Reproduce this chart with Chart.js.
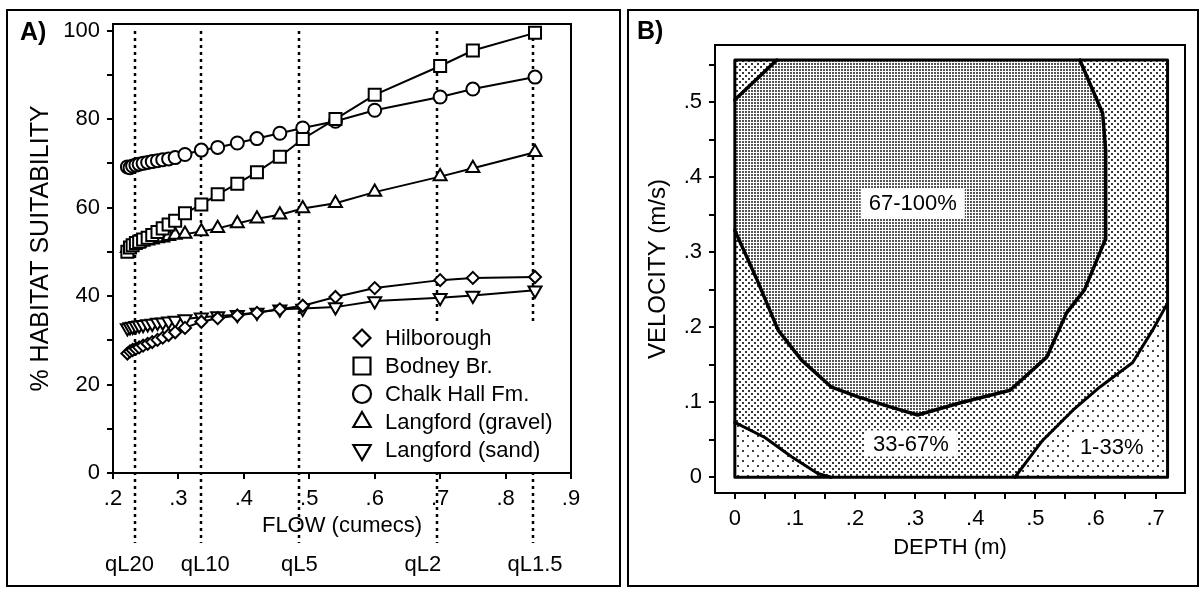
<!DOCTYPE html>
<html>
<head>
<meta charset="utf-8">
<title>Habitat suitability</title>
<script src="https://cdn.jsdelivr.net/npm/chart.js@4.4.1/dist/chart.umd.min.js"></script>
<style>
  html, body { margin: 0; padding: 0; background: #fff; }
  body { position: relative; width: 1201px; height: 590px; overflow: hidden; font-family: 'Liberation Sans', Arial, sans-serif; }
  .frame { position: absolute; border: 2px solid #000; box-sizing: border-box; }
  .wrap { position: absolute; top: 0; height: 590px; }
  .tag { position: absolute; font-weight: bold; font-size: 25px; line-height: 28px; }
</style>
</head>
<body>
<div class="frame" style="left:6px;top:9px;width:615px;height:578px"></div>
<div class="frame" style="left:627px;top:9px;width:572px;height:578px"></div>
<div class="wrap" style="left:0;width:622px"><canvas id="chartA"></canvas></div>
<div class="wrap" style="left:622px;width:579px"><canvas id="chartB"></canvas></div>
<div class="tag" style="left:20px;top:17px">A)</div>
<div class="tag" style="left:637px;top:16px">B)</div>
<script>
// ---- panel A: habitat suitability against flow
const flows = [0.222, 0.226, 0.23, 0.235, 0.24, 0.246, 0.253, 0.26, 0.268, 0.276, 0.285, 0.295,
  0.31, 0.335, 0.36, 0.39, 0.42, 0.455, 0.49, 0.54, 0.60, 0.70, 0.75, 0.845];
const hilborough = [27.0, 27.5, 27.8, 28.1, 28.4, 28.8, 29.2, 29.6, 30.1, 30.6, 31.2, 31.8,
  32.8, 34.2, 35.0, 35.6, 36.2, 37.0, 37.8, 39.8, 41.8, 43.6, 44.1, 44.3];
const bodney = [50.0, 51.0, 51.5, 52.0, 52.3, 52.8, 53.2, 53.8, 54.5, 55.3, 56.2, 57.0,
  58.7, 60.7, 63.0, 65.4, 68.0, 71.5, 75.5, 80.0, 85.5, 92.0, 95.5, 99.5];
const chalkHall = [69.2, 69.0, 69.4, 69.6, 69.8, 70.0, 70.2, 70.4, 70.6, 70.8, 71.0, 71.3,
  72.0, 73.0, 73.6, 74.6, 75.6, 76.8, 78.0, 79.5, 82.0, 85.0, 86.8, 89.5];
const langfordGravel = [50.8, 51.2, 51.5, 51.8, 52.0, 52.3, 52.5, 52.7, 53.0, 53.2, 53.5, 53.8,
  54.0, 54.6, 55.3, 56.4, 57.5, 58.4, 59.8, 61.0, 63.5, 67.0, 68.9, 72.5];
const langfordSand = [32.8, 33.0, 33.1, 33.3, 33.4, 33.5, 33.7, 33.8, 34.0, 34.1, 34.3, 34.5,
  34.8, 35.2, 35.5, 35.8, 36.3, 37.0, 37.2, 37.5, 38.9, 39.6, 40.1, 41.3];
const seriesNames = ['Hilborough', 'Bodney Br.', 'Chalk Hall Fm.', 'Langford (gravel)', 'Langford (sand)'];
const flowTicks = [0.2, 0.3, 0.4, 0.5, 0.6, 0.7, 0.8, 0.9];
const suitabilityTicks = [0, 10, 20, 30, 40, 50, 60, 70, 80, 90, 100];
const returnFlows = [0.233, 0.335, 0.485, 0.695, 0.842];
const returnLabels = ['qL20', 'qL10', 'qL5', 'qL2', 'qL1.5'];

// ---- panel B: suitability zones over depth / velocity
const depthTicks = [0, 0.05, 0.1, 0.15, 0.2, 0.25, 0.3, 0.35, 0.4, 0.45, 0.5, 0.55, 0.6, 0.65, 0.7];
const velocityTicks = [0, 0.05, 0.1, 0.15, 0.2, 0.25, 0.3, 0.35, 0.4, 0.45, 0.5, 0.55];
const regionDepth = [0, 0.72];
const regionVelocity = [0, 0.556];
const innerDepth = [0.0, 0.037, 0.072, 0.111, 0.161, 0.205, 0.261, 0.304, 0.374, 0.458, 0.519, 0.552, 0.582, 0.616, 0.617, 0.612, 0.574];
const innerVelocity = [0.329, 0.263, 0.196, 0.156, 0.120, 0.107, 0.093, 0.083, 0.099, 0.116, 0.160, 0.219, 0.250, 0.316, 0.436, 0.485, 0.556];
const cornerDepth = [0.0, 0.07];
const cornerVelocity = [0.503, 0.556];
const leftOuterDepth = [0.0, 0.05, 0.095, 0.138, 0.16];
const leftOuterVelocity = [0.073, 0.053, 0.027, 0.005, 0.0];
const rightOuterDepth = [0.466, 0.512, 0.562, 0.607, 0.662, 0.695, 0.72];
const rightOuterVelocity = [0.0, 0.049, 0.089, 0.12, 0.153, 0.196, 0.232];
const zoneNames = ['67-100%', '33-67%', '1-33%'];

Chart.defaults.font.family = "'Liberation Sans', Arial, Helvetica, sans-serif";
Chart.defaults.font.size = 22;
Chart.defaults.color = '#000';
Chart.defaults.animation = false;

const FONT = "22px 'Liberation Sans', Arial, sans-serif";
const markerStyles = ['rectRot', 'rect', 'circle', 'triangle', 'triangle'];
const markerRotation = [0, 0, 0, 0, 180];
const markerRadius = [6, 8.5, 6.5, 7.5, 7.5];
const legendRadius = [8.5, 12, 9, 10, 10];

function series(values) {
  return flows.map((f, i) => ({x: f, y: values[i]}));
}

function pts(xs, ys) {
  return xs.map((x, i) => ({x: x, y: ys[i]}));
}

// closed ring + a zero-area spike to the rightmost vertex, so the filler's
// x clipping spans the whole shape
function shape(ring) {
  let right = ring[0];
  ring.forEach(p => { if (p.x > right.x) right = p; });
  return ring.concat([ring[0], right]);
}

function stipple(tile, spots, ink) {
  const c = document.createElement('canvas');
  c.width = c.height = tile;
  const g = c.getContext('2d');
  g.fillStyle = '#fff';
  g.fillRect(0, 0, tile, tile);
  g.fillStyle = ink;
  spots.forEach(s => g.fillRect(s[0], s[1], 2, 2));
  return g.createPattern(c, 'repeat');
}

const axisGrid = {drawOnChartArea: false, tickLength: 6, color: '#000', lineWidth: 2};
const axisBorder = {color: '#000', width: 2};

/**
 * return period lines, legend and plot frame for panel A
 */
const flowDecor = {
  id: 'flowDecor',
  beforeDatasetsDraw(chart) {
    const {ctx, chartArea, scales: {x}} = chart;
    ctx.save();
    ctx.strokeStyle = '#000';
    ctx.lineWidth = 2.5;
    ctx.setLineDash([3, 4]);
    returnFlows.forEach(f => {
      const px = Math.round(x.getPixelForValue(f));
      ctx.beginPath();
      ctx.moveTo(px, chartArea.top + 7);
      ctx.lineTo(px, chartArea.bottom + 70);
      ctx.stroke();
    });
    // the legend sits on a blank patch that hides the dotted lines
    ctx.fillStyle = '#fff';
    ctx.fillRect(chartArea.right - 226, chartArea.bottom - 150, 224, 149);
    ctx.restore();
  },
  afterDraw(chart) {
    const {ctx, chartArea, scales: {x}} = chart;
    const shift = [-5, 4, 0, -14, 2];
    ctx.save();
    ctx.strokeStyle = '#000';
    ctx.lineWidth = 2;
    ctx.strokeRect(chartArea.left, chartArea.top, chartArea.right - chartArea.left, chartArea.bottom - chartArea.top);

    ctx.font = FONT;
    ctx.fillStyle = '#000';
    ctx.textAlign = 'center';
    ctx.textBaseline = 'middle';
    returnLabels.forEach((t, i) => {
      ctx.fillText(t, x.getPixelForValue(returnFlows[i]) + shift[i], chartArea.bottom + 92);
    });

    // legend inside the plot, lower right
    const mx = chartArea.right - 209;
    ctx.textAlign = 'left';
    seriesNames.forEach((name, i) => {
      const my = chartArea.bottom - 135 + i * 28;
      ctx.fillStyle = '#fff';
      ctx.lineWidth = 2.2;
      Chart.helpers.drawPoint(ctx, {
        pointStyle: markerStyles[i],
        rotation: markerRotation[i],
        radius: legendRadius[i],
        borderWidth: 2
      }, mx, my);
      ctx.fillStyle = '#000';
      ctx.fillText(name, mx + 23, my + 1);
    });
    ctx.restore();
  }
};

new Chart(document.getElementById('chartA'), {
  type: 'scatter',
  data: {
    datasets: [hilborough, bodney, chalkHall, langfordGravel, langfordSand].map((vals, i) => ({
      label: seriesNames[i],
      data: series(vals),
      showLine: true,
      borderColor: '#000',
      borderWidth: 2,
      pointStyle: markerStyles[i],
      pointRotation: markerRotation[i],
      pointRadius: markerRadius[i],
      pointBorderWidth: 2,
      pointBorderColor: '#000',
      pointBackgroundColor: '#fff',
      clip: false
    }))
  },
  options: {
    responsive: true,
    maintainAspectRatio: false,
    devicePixelRatio: 1,
    layout: {padding: {top: 24, right: 51, bottom: 47, left: 0}},
    plugins: {legend: {display: false}, tooltip: {enabled: false}},
    scales: {
      x: {
        type: 'linear',
        min: 0.2,
        max: 0.9,
        afterFit: s => { s.height = 70; },
        afterBuildTicks: s => { s.ticks = flowTicks.map(v => ({value: v})); },
        ticks: {autoSkip: false, maxRotation: 0, padding: 7,
          callback: v => v.toFixed(1).replace(/^0/, '')},
        grid: axisGrid,
        border: axisBorder,
        title: {display: true, text: 'FLOW (cumecs)', padding: {top: 0, bottom: 4}}
      },
      y: {
        type: 'linear',
        min: 0,
        max: 101.5,
        afterFit: s => { s.width = 113; },
        afterBuildTicks: s => { s.ticks = suitabilityTicks.map(v => ({value: v})); },
        ticks: {autoSkip: false, padding: 7, callback: v => (v % 20 === 0 ? String(v) : '')},
        grid: axisGrid,
        border: axisBorder,
        title: {display: true, text: '% HABITAT SUITABILITY', font: {size: 25}, padding: {top: 26, bottom: 0}}
      }
    }
  },
  plugins: [flowDecor]
});

// ---- panel B
const zoneLabels = {
  id: 'zoneLabels',
  afterDatasetsDraw(chart) {
    const {ctx, scales: {x, y}} = chart;
    const anchors = [[0.296, 0.365, 30], [0.293, 0.045, 26], [0.627, 0.04, 26]];
    ctx.save();
    ctx.font = FONT;
    ctx.textAlign = 'center';
    ctx.textBaseline = 'middle';
    zoneNames.forEach((t, i) => {
      const px = x.getPixelForValue(anchors[i][0]);
      const py = y.getPixelForValue(anchors[i][1]);
      const w = ctx.measureText(t).width + 16;
      ctx.fillStyle = '#fff';
      ctx.fillRect(px - w / 2, py - anchors[i][2] / 2, w, anchors[i][2]);
      ctx.fillStyle = '#000';
      ctx.fillText(t, px, py + 1);
    });
    ctx.restore();
  },
  afterDraw(chart) {
    const {ctx, chartArea} = chart;
    ctx.save();
    ctx.strokeStyle = '#000';
    ctx.lineWidth = 2;
    ctx.strokeRect(chartArea.left, chartArea.top, chartArea.right - chartArea.left, chartArea.bottom - chartArea.top);
    ctx.restore();
  }
};

const lightDots = stipple(10, [[0, 0], [5, 5]], '#404040');
const midDots = stipple(6, [[0, 0], [3, 3]], '#383838');
const darkDots = stipple(3, [[0, 0]], '#555555');

const region = [
  {x: regionDepth[0], y: regionVelocity[0]},
  {x: regionDepth[0], y: regionVelocity[1]},
  {x: regionDepth[1], y: regionVelocity[1]},
  {x: regionDepth[1], y: regionVelocity[0]}
];
const inner = pts(innerDepth, innerVelocity);
const corner = pts(cornerDepth, cornerVelocity);
const lowLeft = pts(leftOuterDepth, leftOuterVelocity);
const lowRight = pts(rightOuterDepth, rightOuterVelocity);
const midZone = [{x: regionDepth[0], y: regionVelocity[1]}]
  .concat(lowLeft, lowRight, [{x: regionDepth[1], y: regionVelocity[1]}]);
const highZone = inner.concat(corner.slice().reverse());

function zone(data, pattern, order) {
  return {data: shape(data), showLine: true, fill: 'shape', backgroundColor: pattern,
    borderWidth: 0, pointRadius: 0, order: order};
}

function contour(data, width, order) {
  return {data: data, showLine: true, fill: false, borderColor: '#000', borderWidth: width,
    borderJoinStyle: 'round', borderCapStyle: 'round', pointRadius: 0, order: order};
}

new Chart(document.getElementById('chartB'), {
  type: 'scatter',
  data: {
    datasets: [
      zone(region, lightDots, 9),
      zone(midZone, midDots, 8),
      zone(highZone, darkDots, 7),
      contour(inner, 3.5, 3),
      contour(corner, 3.5, 3),
      contour(lowLeft, 3, 3),
      contour(lowRight, 3, 3),
      contour(region.concat([region[0]]), 3, 2)
    ]
  },
  options: {
    responsive: true,
    maintainAspectRatio: false,
    devicePixelRatio: 1,
    layout: {padding: {top: 45, right: 16, bottom: 27, left: 0}},
    plugins: {legend: {display: false}, tooltip: {enabled: false}},
    scales: {
      x: {
        type: 'linear',
        min: -0.033,
        max: 0.749,
        afterFit: s => { s.height = 70; },
        afterBuildTicks: s => { s.ticks = depthTicks.map(v => ({value: v})); },
        ticks: {autoSkip: false, maxRotation: 0, padding: 7,
          callback: v => (Math.round(v * 100) % 10 ? '' : (v === 0 ? '0' : v.toFixed(1).replace(/^0/, '')))},
        grid: axisGrid,
        border: axisBorder,
        title: {display: true, text: 'DEPTH (m)', padding: {top: 0, bottom: 2}}
      },
      y: {
        type: 'linear',
        min: -0.021,
        max: 0.576,
        afterFit: s => { s.width = 93; },
        afterBuildTicks: s => { s.ticks = velocityTicks.map(v => ({value: v})); },
        ticks: {autoSkip: false, padding: 7,
          callback: v => (Math.round(v * 100) % 10 ? '' : (v === 0 ? '0' : v.toFixed(1).replace(/^0/, '')))},
        grid: axisGrid,
        border: axisBorder,
        title: {display: true, text: 'VELOCITY (m/s)', font: {size: 24}, padding: {top: 22, bottom: 0}}
      }
    }
  },
  plugins: [zoneLabels]
});
</script>
</body>
</html>
